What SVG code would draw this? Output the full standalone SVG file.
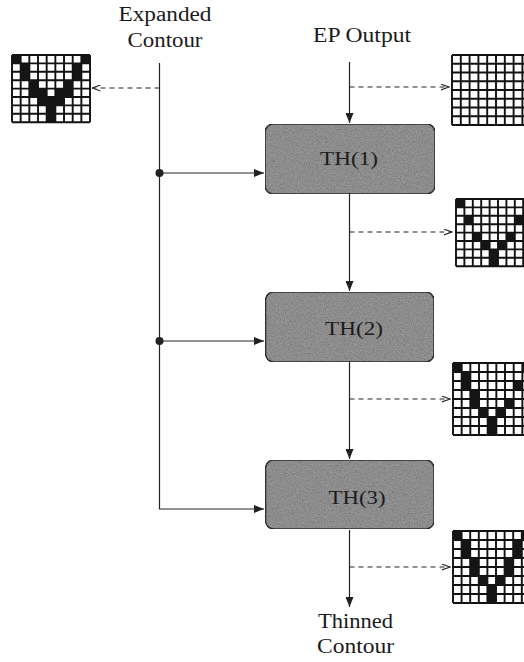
<svg xmlns="http://www.w3.org/2000/svg" width="524" height="662" viewBox="0 0 524 662">
<style>
.lbl{font-family:"Liberation Serif","Times New Roman",serif;font-size:20px;fill:#1a1a1a;text-anchor:middle}
.th{font-family:"Liberation Serif","Times New Roman",serif;font-size:19px;fill:#1c1c1c;text-anchor:middle}
.ln{stroke:#222;stroke-width:1.2;fill:none}
.dash{stroke:#222;stroke-width:1.2;fill:none;stroke-dasharray:5 4}
.box{fill:#999;stroke:#333;stroke-width:1.6}
.blk{fill:#151515}
</style>
<defs>
<marker id="ah" viewBox="0 0 10 8" refX="10" refY="4" markerWidth="10" markerHeight="8" markerUnits="userSpaceOnUse" orient="auto"><path d="M0 0L10 4L0 8Z" fill="#222"/></marker>
<marker id="oa" viewBox="0 0 9 7" refX="8.5" refY="3.5" markerWidth="9" markerHeight="7" markerUnits="userSpaceOnUse" orient="auto"><path d="M0 0.5L8.5 3.5L0 6.5" fill="none" stroke="#222" stroke-width="1.1"/></marker>
<filter id="grain" x="0" y="0" width="1" height="1">
<feTurbulence type="fractalNoise" baseFrequency="0.75" numOctaves="2" seed="4" result="t"/>
<feColorMatrix in="t" type="matrix" values="0.45 0.45 0.45 0 0.15  0.45 0.45 0.45 0 0.15  0.45 0.45 0.45 0 0.15  0 0 0 0 1" result="g"/>
<feBlend in="SourceGraphic" in2="g" mode="multiply" result="b"/>
<feComposite in="b" in2="SourceGraphic" operator="in"/>
</filter>
<g id="grid">
<rect x="0" y="0" width="9" height="8" fill="#fff"/>
<path d="M0 0V8M1 0V8M2 0V8M3 0V8M4 0V8M5 0V8M6 0V8M7 0V8M8 0V8M9 0V8M0 0H9M0 1H9M0 2H9M0 3H9M0 4H9M0 5H9M0 6H9M0 7H9M0 8H9" stroke="#111" stroke-width="1.9" vector-effect="non-scaling-stroke" fill="none"/>
</g>
</defs>

<g id="labels">
<text class="lbl" x="165" y="21" textLength="93" lengthAdjust="spacingAndGlyphs">Expanded</text>
<text class="lbl" x="165" y="47" textLength="75" lengthAdjust="spacingAndGlyphs">Contour</text>
<text class="lbl" x="362" y="42" textLength="98" lengthAdjust="spacingAndGlyphs">EP Output</text>
<text class="lbl" x="355.5" y="628" textLength="75" lengthAdjust="spacingAndGlyphs">Thinned</text>
<text class="lbl" x="355.5" y="653" textLength="77" lengthAdjust="spacingAndGlyphs">Contour</text>
</g>

<g id="connectors">
<path class="ln" d="M159.5 63V509H264" marker-end="url(#ah)"/>
<path class="ln" d="M159.5 173H264" marker-end="url(#ah)"/>
<path class="ln" d="M159.5 341H264" marker-end="url(#ah)"/>
<circle cx="159.5" cy="173" r="4" fill="#222"/>
<circle cx="159.5" cy="341" r="4" fill="#222"/>
<path class="dash" d="M159.5 88H92" marker-end="url(#oa)"/>
<path class="ln" d="M349.5 62V123" marker-end="url(#ah)"/>
<path class="ln" d="M349.5 194V291" marker-end="url(#ah)"/>
<path class="ln" d="M349.5 362V459" marker-end="url(#ah)"/>
<path class="ln" d="M349.5 530V607" marker-end="url(#ah)"/>
<path class="dash" d="M349.5 87H449" marker-end="url(#oa)"/>
<path class="dash" d="M349.5 232H452" marker-end="url(#oa)"/>
<path class="dash" d="M349.5 399H450" marker-end="url(#oa)"/>
<path class="dash" d="M349.5 567H450" marker-end="url(#oa)"/>
</g>

<g id="th1">
<rect class="box" x="265" y="124" width="170" height="70" rx="8" filter="url(#grain)"/>
<text class="th" x="349" y="165" textLength="58" lengthAdjust="spacingAndGlyphs">TH(1)</text>
</g>
<g id="th2">
<rect class="box" x="265.5" y="292" width="168.5" height="70" rx="8" filter="url(#grain)"/>
<text class="th" x="354" y="335" textLength="58" lengthAdjust="spacingAndGlyphs">TH(2)</text>
</g>
<g id="th3">
<rect class="box" x="265.5" y="460" width="168.5" height="69" rx="8" filter="url(#grain)"/>
<text class="th" x="357" y="504" textLength="57" lengthAdjust="spacingAndGlyphs">TH(3)</text>
</g>

<g id="grid-expanded" transform="translate(12 55) scale(8.67 8.4)">
<use href="#grid"/>
<path class="blk" d="M0 0h1v1h-1zM8 0h1v1h-1zM1 1h1v2h-1zM7 1h1v2h-1zM2 3h1v2h-1zM6 3h1v2h-1zM3 4h1v2h-1zM5 4h1v2h-1zM4 5h1v3h-1z"/>
</g>

<g id="grid-ep" transform="translate(452 55) scale(8.8 8.75)">
<use href="#grid"/>
</g>

<g id="grid-th1" transform="translate(456 199) scale(8.4 8.4)">
<use href="#grid"/>
<path class="blk" d="M0 0h1v1h-1zM8 0h1v1h-1zM1 2h1v1h-1zM7 2h1v1h-1zM2 4h1v1h-1zM6 4h1v1h-1zM3 5h1v1h-1zM5 5h1v1h-1zM4 6h1v2h-1z"/>
</g>

<g id="grid-th2" transform="translate(453 363) scale(8.67 9)">
<use href="#grid"/>
<path class="blk" d="M0 0h1v1h-1zM8 0h1v1h-1zM1 1h1v2h-1zM7 2h1v1h-1zM2 3h1v2h-1zM6 4h1v1h-1zM3 5h1v1h-1zM5 5h1v1h-1zM4 6h1v2h-1z"/>
</g>

<g id="grid-th3" transform="translate(453 531) scale(8.6 9)">
<use href="#grid"/>
<path class="blk" d="M0 0h1v1h-1zM8 0h1v1h-1zM1 1h1v2h-1zM7 1h1v2h-1zM2 3h1v2h-1zM6 3h1v2h-1zM3 5h1v1h-1zM5 5h1v1h-1zM4 6h1v2h-1z"/>
</g>
</svg>
